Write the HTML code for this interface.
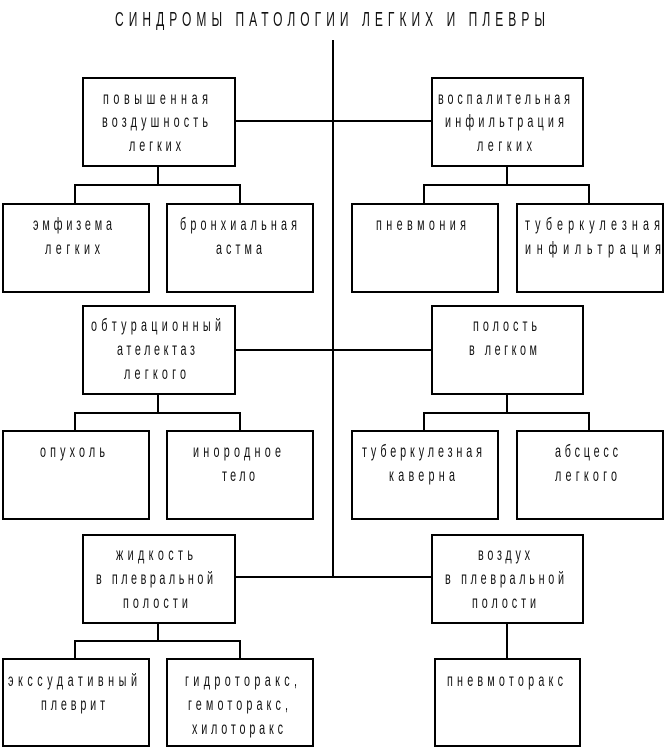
<!DOCTYPE html>
<html><head><meta charset="utf-8"><style>
html,body{margin:0;padding:0;background:#fff;width:665px;height:752px;overflow:hidden}
svg{display:block}
text{font-family:"Liberation Sans",sans-serif;font-size:18px;fill:#111}
</style></head><body>
<svg width="665" height="752" viewBox="0 0 665 752" xmlns="http://www.w3.org/2000/svg">
<g fill="none" stroke="#000" stroke-width="2">
<line x1="333" y1="40" x2="333" y2="578"/>
<line x1="235" y1="121" x2="432" y2="121"/>
<line x1="235" y1="350" x2="432" y2="350"/>
<line x1="235" y1="577" x2="432" y2="577"/>
<rect x="83" y="78" width="152" height="88"/>
<rect x="432" y="78" width="151" height="88"/>
<rect x="3" y="204" width="146" height="88"/>
<rect x="167" y="204" width="146" height="88"/>
<rect x="352" y="204" width="146" height="88"/>
<rect x="517" y="204" width="146" height="88"/>
<rect x="83" y="306" width="152" height="88"/>
<rect x="432" y="306" width="151" height="88"/>
<rect x="3" y="431" width="146" height="88"/>
<rect x="167" y="431" width="146" height="88"/>
<rect x="352" y="431" width="146" height="88"/>
<rect x="517" y="431" width="146" height="88"/>
<rect x="83" y="535" width="152" height="88"/>
<rect x="432" y="535" width="151" height="88"/>
<rect x="3" y="659" width="146" height="87"/>
<rect x="167" y="659" width="146" height="87"/>
<rect x="435" y="659" width="145" height="87"/>
<polyline points="158,166 158,185"/><polyline points="75,204 75,185 240,185 240,204"/>
<polyline points="507,166 507,185"/><polyline points="424,204 424,185 589,185 589,204"/>
<polyline points="158,394 158,413"/><polyline points="75,431 75,413 240,413 240,431"/>
<polyline points="507,394 507,413"/><polyline points="424,431 424,413 589,413 589,431"/>
<polyline points="158,623 158,641"/><polyline points="75,659 75,641 240,641 240,659"/>
<line x1="507" y1="623" x2="507" y2="659"/>
</g>
<text transform="translate(115,26) scale(0.6,1)" textLength="716.7" lengthAdjust="spacing" style="font-size:20px">СИНДРОМЫ ПАТОЛОГИИ ЛЕГКИХ И ПЛЕВРЫ</text>

<text transform="translate(103,104) scale(0.6,1)" textLength="175" lengthAdjust="spacing">повышенная</text>
<text transform="translate(102,127) scale(0.6,1)" textLength="176.7" lengthAdjust="spacing">воздушность</text>
<text transform="translate(129,151) scale(0.6,1)" textLength="86.7" lengthAdjust="spacing">легких</text>

<text transform="translate(438,104) scale(0.6,1)" textLength="220" lengthAdjust="spacing">воспалительная</text>
<text transform="translate(445,127) scale(0.6,1)" textLength="198.3" lengthAdjust="spacing">инфильтрация</text>
<text transform="translate(477,151) scale(0.6,1)" textLength="91.7" lengthAdjust="spacing">легких</text>

<text transform="translate(33,230) scale(0.6,1)" textLength="131.7" lengthAdjust="spacing">эмфизема</text>
<text transform="translate(45,254) scale(0.6,1)" textLength="91.7" lengthAdjust="spacing">легких</text>
<text transform="translate(180,230) scale(0.6,1)" textLength="195" lengthAdjust="spacing">бронхиальная</text>
<text transform="translate(216,254) scale(0.6,1)" textLength="76.7" lengthAdjust="spacing">астма</text>
<text transform="translate(376,230) scale(0.6,1)" textLength="150" lengthAdjust="spacing">пневмония</text>
<text transform="translate(525,230) scale(0.6,1)" textLength="225" lengthAdjust="spacing">туберкулезная</text>
<text transform="translate(525,254) scale(0.6,1)" textLength="226.7" lengthAdjust="spacing">инфильтрация</text>

<text transform="translate(91,331) scale(0.6,1)" textLength="216.7" lengthAdjust="spacing">обтурационный</text>
<text transform="translate(117,355) scale(0.6,1)" textLength="130" lengthAdjust="spacing">ателектаз</text>
<text transform="translate(124,379) scale(0.6,1)" textLength="103.3" lengthAdjust="spacing">легкого</text>
<text transform="translate(473,331) scale(0.6,1)" textLength="106.7" lengthAdjust="spacing">полость</text>
<text transform="translate(469,355) scale(0.6,1)" textLength="113.3" lengthAdjust="spacing">в легком</text>

<text transform="translate(40,457) scale(0.6,1)" textLength="108.3" lengthAdjust="spacing">опухоль</text>
<text transform="translate(193,457) scale(0.6,1)" textLength="146.7" lengthAdjust="spacing">инородное</text>
<text transform="translate(222,481) scale(0.6,1)" textLength="55" lengthAdjust="spacing">тело</text>
<text transform="translate(362,457) scale(0.6,1)" textLength="200" lengthAdjust="spacing">туберкулезная</text>
<text transform="translate(389,481) scale(0.6,1)" textLength="110" lengthAdjust="spacing">каверна</text>
<text transform="translate(555,457) scale(0.6,1)" textLength="105" lengthAdjust="spacing">абсцесс</text>
<text transform="translate(555,481) scale(0.6,1)" textLength="103.3" lengthAdjust="spacing">легкого</text>

<text transform="translate(116,560) scale(0.6,1)" textLength="128.3" lengthAdjust="spacing">жидкость</text>
<text transform="translate(96,584) scale(0.6,1)" textLength="195" lengthAdjust="spacing">в плевральной</text>
<text transform="translate(123,608) scale(0.6,1)" textLength="108.3" lengthAdjust="spacing">полости</text>
<text transform="translate(478,560) scale(0.6,1)" textLength="86.7" lengthAdjust="spacing">воздух</text>
<text transform="translate(445,584) scale(0.6,1)" textLength="198.3" lengthAdjust="spacing">в плевральной</text>
<text transform="translate(472,608) scale(0.6,1)" textLength="106.7" lengthAdjust="spacing">полости</text>

<text transform="translate(8,686) scale(0.6,1)" textLength="215" lengthAdjust="spacing">экссудативный</text>
<text transform="translate(41,710) scale(0.6,1)" textLength="106.7" lengthAdjust="spacing">плеврит</text>
<text transform="translate(185,686) scale(0.6,1)" textLength="186.7" lengthAdjust="spacing">гидроторакс,</text>
<text transform="translate(188,710) scale(0.6,1)" textLength="166.7" lengthAdjust="spacing">гемоторакс,</text>
<text transform="translate(192,734) scale(0.6,1)" textLength="151.7" lengthAdjust="spacing">хилоторакс</text>
<text transform="translate(447,686) scale(0.6,1)" textLength="193.3" lengthAdjust="spacing">пневмоторакс</text>
</svg>
</body></html>
